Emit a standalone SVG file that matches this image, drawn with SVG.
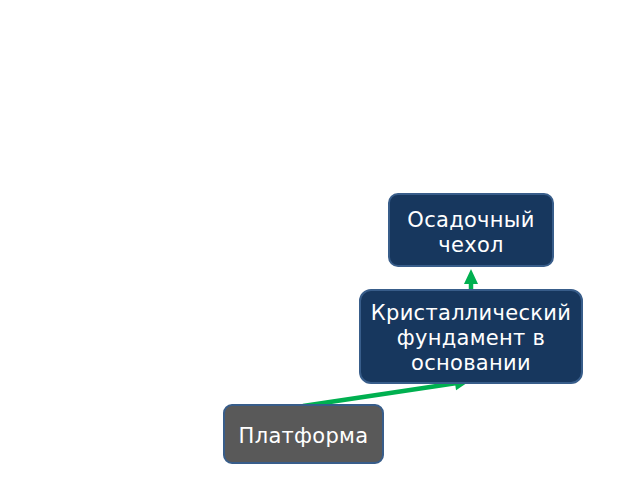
<svg xmlns="http://www.w3.org/2000/svg" width="640" height="480" viewBox="0 0 640 480">
<style>
.box{fill:#17375e;stroke:#385d8a;stroke-width:2}
.gray{fill:#595959;stroke:#385d8a;stroke-width:2}
.t{font-family:"DejaVu Sans",sans-serif;font-size:21px;fill:#ffffff;text-anchor:middle;letter-spacing:0.3px}
.c{stroke:#00b050;stroke-width:4.5;fill:none}
</style>
<defs>
<marker id="ah" markerWidth="16" markerHeight="16" refX="2" refY="8" orient="auto" markerUnits="userSpaceOnUse" overflow="visible">
<path d="M0,1 L15,8 L0,15 z" fill="#00b050"/>
</marker>
</defs>
<rect width="640" height="480" fill="#ffffff"/>
<g id="connectors">
<line class="c" x1="471" y1="290" x2="471" y2="282" marker-end="url(#ah)"/>
<line class="c" x1="303" y1="406" x2="457" y2="383" marker-end="url(#ah)"/>
</g>
<g id="node-osadochny">
<rect class="box" x="389" y="194" width="164" height="72" rx="9"/>
<text class="t" x="471" y="227">Осадочный</text>
<text class="t" x="471" y="252">чехол</text>
</g>
<g id="node-fundament">
<rect class="box" x="360" y="290" width="222" height="93" rx="11"/>
<text class="t" x="471" y="320">Кристаллический</text>
<text class="t" x="471" y="345">фундамент в</text>
<text class="t" x="471" y="370">основании</text>
</g>
<g id="node-platforma">
<rect class="gray" x="224" y="405" width="159" height="58" rx="8"/>
<text class="t" x="303.5" y="443">Платформа</text>
</g>
</svg>
